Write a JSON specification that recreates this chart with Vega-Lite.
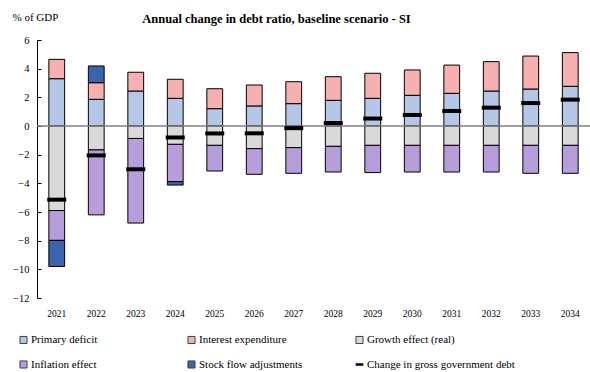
{
  "$schema": "https://vega.github.io/schema/vega-lite/v6.json",
  "width": 553,
  "height": 258,
  "autosize": "none",
  "padding": {"left": 37, "top": 40, "right": 0, "bottom": 74},
  "background": "white",
  "config": {"view": {"stroke": null}, "font": "'Liberation Serif', serif"},
  "title": {"text": "Annual change in debt  ratio, baseline scenario - SI", "font": "'Liberation Serif', serif", "fontSize": 12.5, "fontWeight": "bold", "color": "#000", "anchor": "middle", "dx": -37, "offset": -14},
  "datasets": {
    "parts": [
      {"year": "2021", "component": "Primary deficit", "ord": 1, "value": 3.3},
      {"year": "2021", "component": "Interest expenditure", "ord": 2, "value": 1.35},
      {"year": "2021", "component": "Growth effect (real)", "ord": 3, "value": -5.9},
      {"year": "2021", "component": "Inflation effect", "ord": 4, "value": -2.08},
      {"year": "2021", "component": "Stock flow adjustments", "ord": 5, "value": -1.82},
      {"year": "2022", "component": "Primary deficit", "ord": 1, "value": 1.86},
      {"year": "2022", "component": "Interest expenditure", "ord": 2, "value": 1.16},
      {"year": "2022", "component": "Growth effect (real)", "ord": 3, "value": -1.67},
      {"year": "2022", "component": "Inflation effect", "ord": 4, "value": -4.53},
      {"year": "2022", "component": "Stock flow adjustments", "ord": 5, "value": 1.17},
      {"year": "2023", "component": "Primary deficit", "ord": 1, "value": 2.44},
      {"year": "2023", "component": "Interest expenditure", "ord": 2, "value": 1.31},
      {"year": "2023", "component": "Growth effect (real)", "ord": 3, "value": -0.87},
      {"year": "2023", "component": "Inflation effect", "ord": 4, "value": -5.9},
      {"year": "2024", "component": "Primary deficit", "ord": 1, "value": 1.93},
      {"year": "2024", "component": "Interest expenditure", "ord": 2, "value": 1.33},
      {"year": "2024", "component": "Growth effect (real)", "ord": 3, "value": -1.28},
      {"year": "2024", "component": "Inflation effect", "ord": 4, "value": -2.6},
      {"year": "2024", "component": "Stock flow adjustments", "ord": 5, "value": -0.24},
      {"year": "2025", "component": "Primary deficit", "ord": 1, "value": 1.21},
      {"year": "2025", "component": "Interest expenditure", "ord": 2, "value": 1.39},
      {"year": "2025", "component": "Growth effect (real)", "ord": 3, "value": -1.35},
      {"year": "2025", "component": "Inflation effect", "ord": 4, "value": -1.79},
      {"year": "2026", "component": "Primary deficit", "ord": 1, "value": 1.4},
      {"year": "2026", "component": "Interest expenditure", "ord": 2, "value": 1.46},
      {"year": "2026", "component": "Growth effect (real)", "ord": 3, "value": -1.58},
      {"year": "2026", "component": "Inflation effect", "ord": 4, "value": -1.79},
      {"year": "2027", "component": "Primary deficit", "ord": 1, "value": 1.56},
      {"year": "2027", "component": "Interest expenditure", "ord": 2, "value": 1.53},
      {"year": "2027", "component": "Growth effect (real)", "ord": 3, "value": -1.51},
      {"year": "2027", "component": "Inflation effect", "ord": 4, "value": -1.79},
      {"year": "2028", "component": "Primary deficit", "ord": 1, "value": 1.79},
      {"year": "2028", "component": "Interest expenditure", "ord": 2, "value": 1.65},
      {"year": "2028", "component": "Growth effect (real)", "ord": 3, "value": -1.42},
      {"year": "2028", "component": "Inflation effect", "ord": 4, "value": -1.79},
      {"year": "2029", "component": "Primary deficit", "ord": 1, "value": 1.93},
      {"year": "2029", "component": "Interest expenditure", "ord": 2, "value": 1.75},
      {"year": "2029", "component": "Growth effect (real)", "ord": 3, "value": -1.35},
      {"year": "2029", "component": "Inflation effect", "ord": 4, "value": -1.9},
      {"year": "2030", "component": "Primary deficit", "ord": 1, "value": 2.14},
      {"year": "2030", "component": "Interest expenditure", "ord": 2, "value": 1.77},
      {"year": "2030", "component": "Growth effect (real)", "ord": 3, "value": -1.35},
      {"year": "2030", "component": "Inflation effect", "ord": 4, "value": -1.86},
      {"year": "2031", "component": "Primary deficit", "ord": 1, "value": 2.28},
      {"year": "2031", "component": "Interest expenditure", "ord": 2, "value": 1.97},
      {"year": "2031", "component": "Growth effect (real)", "ord": 3, "value": -1.35},
      {"year": "2031", "component": "Inflation effect", "ord": 4, "value": -1.86},
      {"year": "2032", "component": "Primary deficit", "ord": 1, "value": 2.44},
      {"year": "2032", "component": "Interest expenditure", "ord": 2, "value": 2.05},
      {"year": "2032", "component": "Growth effect (real)", "ord": 3, "value": -1.35},
      {"year": "2032", "component": "Inflation effect", "ord": 4, "value": -1.86},
      {"year": "2033", "component": "Primary deficit", "ord": 1, "value": 2.58},
      {"year": "2033", "component": "Interest expenditure", "ord": 2, "value": 2.3},
      {"year": "2033", "component": "Growth effect (real)", "ord": 3, "value": -1.35},
      {"year": "2033", "component": "Inflation effect", "ord": 4, "value": -1.95},
      {"year": "2034", "component": "Primary deficit", "ord": 1, "value": 2.77},
      {"year": "2034", "component": "Interest expenditure", "ord": 2, "value": 2.35},
      {"year": "2034", "component": "Growth effect (real)", "ord": 3, "value": -1.35},
      {"year": "2034", "component": "Inflation effect", "ord": 4, "value": -1.95}
    ],
    "debt": [
      {"year": "2021", "component": "Change in gross government debt", "value": -5.14},
      {"year": "2022", "component": "Change in gross government debt", "value": -2.05},
      {"year": "2023", "component": "Change in gross government debt", "value": -3.02},
      {"year": "2024", "component": "Change in gross government debt", "value": -0.8},
      {"year": "2025", "component": "Change in gross government debt", "value": -0.52},
      {"year": "2026", "component": "Change in gross government debt", "value": -0.51},
      {"year": "2027", "component": "Change in gross government debt", "value": -0.15},
      {"year": "2028", "component": "Change in gross government debt", "value": 0.21},
      {"year": "2029", "component": "Change in gross government debt", "value": 0.52},
      {"year": "2030", "component": "Change in gross government debt", "value": 0.77},
      {"year": "2031", "component": "Change in gross government debt", "value": 1.05},
      {"year": "2032", "component": "Change in gross government debt", "value": 1.28},
      {"year": "2033", "component": "Change in gross government debt", "value": 1.6},
      {"year": "2034", "component": "Change in gross government debt", "value": 1.84}
    ],
    "zero": [{"value": 0}]
  },
  "encoding": {
    "x": {
      "field": "year", "type": "ordinal",
      "scale": {"paddingInner": 0.6, "paddingOuter": 0.3},
      "axis": {"title": null, "domain": false, "ticks": false, "labelAngle": 0, "labelFont": "'Liberation Serif', serif", "labelFontSize": 9.5, "labelColor": "#000", "labelPadding": 10}
    }
  },
  "resolve": {"axis": {"y": "shared"}},
  "layer": [
    {
      "data": {"name": "parts"},
      "mark": {"type": "bar", "stroke": "#000", "strokeWidth": 1, "opacity": 1},
      "encoding": {
        "y": {
          "field": "value", "type": "quantitative", "stack": "zero",
          "scale": {"domain": [-12, 6], "nice": false},
          "axis": {
            "values": [-12, -10, -8, -6, -4, -2, 0, 2, 4, 6], "tickCount": 10,
            "labelOverlap": false, "labelBound": false, "labelFlush": false,
            "grid": false, "domainColor": "#000", "tickColor": "#000", "tickSize": -4,
            "labelFont": "'Liberation Serif', serif", "labelFontSize": 10.5, "labelColor": "#000", "labelPadding": 12,
            "title": "% of GDP", "titleAngle": 0, "titleX": -25, "titleY": -23, "titleAlign": "left", "titleBaseline": "middle",
            "titleFont": "'Liberation Serif', serif", "titleFontSize": 11, "titleFontWeight": "normal", "titleColor": "#000"
          }
        },
        "order": {"field": "ord", "type": "quantitative"},
        "color": {
          "field": "component", "type": "nominal",
          "scale": {
            "domain": ["Primary deficit", "Interest expenditure", "Growth effect (real)", "Inflation effect", "Stock flow adjustments", "Change in gross government debt"],
            "range": ["#b4c7e7", "#f6b0b0", "#d9d9d9", "#b89ddb", "#3c64ad", "#000000"]
          },
          "legend": {
            "orient": "none", "legendX": -19, "legendY": 294, "direction": "horizontal", "columns": 3,
            "gridAlign": "all", "columnPadding": 6, "rowPadding": 12, "title": null,
            "symbolType": "square", "symbolSize": 50, "symbolStrokeColor": "#404040", "symbolStrokeWidth": 1, "symbolOpacity": 1,
            "labelFont": "'Liberation Serif', serif", "labelFontSize": 11, "labelColor": "#000", "labelOffset": 2, "labelLimit": 220,
            "encode": {"symbols": {"update": {"shape": {"signal": "datum.value === 'Change in gross government debt' ? 'M-1,-0.3H1V0.3H-1Z' : 'square'"}}}}
          }
        }
      }
    },
    {
      "data": {"name": "zero"},
      "mark": {"type": "rule", "color": "#808080", "strokeWidth": 1.5},
      "encoding": {
        "x": null,
        "y": {
          "field": "value", "type": "quantitative",
          "axis": {"values": [-12, -10, -8, -6, -4, -2, 0, 2, 4, 6], "tickCount": 10, "labelOverlap": false}
        }
      }
    },
    {
      "data": {"name": "debt"},
      "mark": {"type": "tick", "thickness": 4, "size": 19, "opacity": 1},
      "encoding": {
        "y": {
          "field": "value", "type": "quantitative",
          "axis": {"values": [-12, -10, -8, -6, -4, -2, 0, 2, 4, 6], "tickCount": 10, "labelOverlap": false}
        },
        "color": {"field": "component", "type": "nominal"}
      }
    }
  ]
}
